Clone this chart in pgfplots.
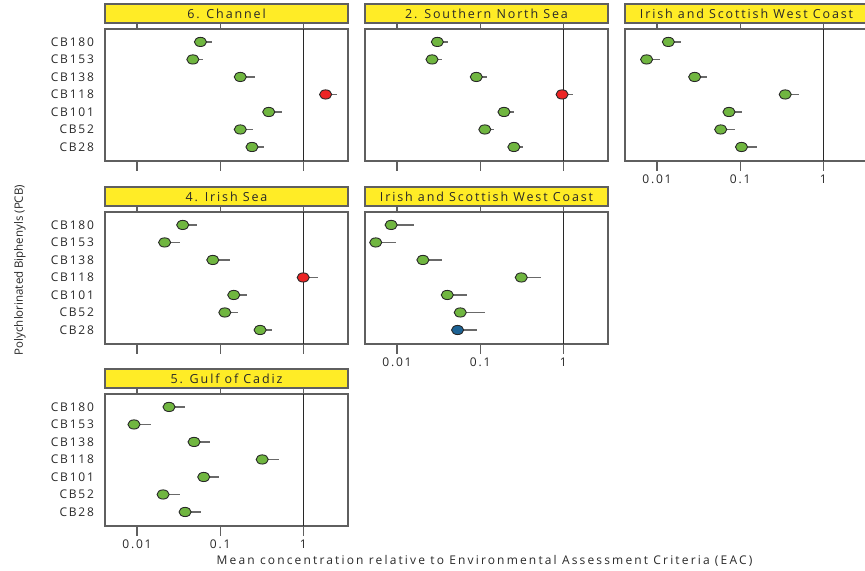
\documentclass[border=0pt]{standalone}
\usepackage{pgfplots}
\pgfplotsset{compat=1.18}
\usepackage{fontspec}
\setmainfont{Open Sans}[LetterSpace=15]
\newfontfamily\xlabfont{Open Sans}[LetterSpace=18]
\newfontfamily\ylabfont{Open Sans}
\definecolor{stripyellow}{RGB}{255,236,38}
\definecolor{framegray}{RGB}{95,95,95}
\definecolor{mgreen}{RGB}{112,182,64}
\definecolor{mred}{RGB}{236,36,36}
\definecolor{mblue}{RGB}{28,98,148}
\definecolor{mdark}{RGB}{40,40,40}
\definecolor{whiskgray}{RGB}{105,105,105}
\definecolor{txt}{RGB}{40,40,40}
\pgfplotsset{
  every axis/.append style={
    scale only axis, width=243bp, height=132bp,
    anchor=south west,
    xmin=0.00412, xmax=3.46,
    ymin=0.2, ymax=7.74,
    ytick={1,2,3,4,5,6,7},
    xtick={0.01,0.1,1},
    minor tick length=0pt,
    minor tick style={draw=none},
    tick align=outside, major tick length=10bp,
    ytick style={draw=none},
    xtick style={draw=framegray, line width=1.1bp},
    axis line style={draw=framegray, line width=1.2bp},
    tick label style={font=\fontsize{12bp}{14bp}\selectfont, text=txt},
    yticklabel style={xshift=2.5bp},
    title style={at={(0.5,1)}, anchor=south, yshift=0pt, fill=stripyellow,
      draw=framegray, line width=1.2bp, minimum width=243bp, minimum height=19bp,
      inner sep=0pt, outer sep=0pt, text=txt, font=\fontsize{12.5bp}{14bp}\selectfont},
    clip=false,
  },
}
\tikzset{
  chref/.style={draw=mdark, line width=1.2bp},
  chwhisk/.style={draw=whiskgray, line width=1.2bp},
  chpt/.style={mark=*, mark size=4.6bp, mark options={xscale=1.32, draw=mdark, line width=0.9bp, fill=#1}},
}
\begin{document}
\begin{tikzpicture}[x=1bp,y=1bp]
\useasboundingbox (0,0) rectangle (865,571);
% Panel 1: Channel
\begin{semilogxaxis}[xticklabels={,,}, yticklabels={CB28,CB52,CB101,CB118,CB138,CB153,CB180}, at={(105bp,410bp)}, title={6. Channel}]
\addplot[chref, no marks] coordinates {(1,0.2) (1,7.74)};
\addplot[chwhisk, no marks, unbounded coords=jump] coordinates {(0.058,7)(0.079,7) (nan,nan) (0.047,6)(0.062,6) (nan,nan) (0.175,5)(0.26,5) (nan,nan) (1.86,4)(2.57,4) (nan,nan) (0.385,3)(0.55,3) (nan,nan) (0.175,2)(0.247,2) (nan,nan) (0.242,1)(0.338,1)};
\addplot[only marks, chpt=mgreen] coordinates {(0.058,7) (0.047,6) (0.175,5) (0.385,3) (0.175,2) (0.242,1)};
\addplot[only marks, chpt=mred] coordinates {(1.86,4)};
\end{semilogxaxis}
% Panel 2: Southern North Sea
\begin{semilogxaxis}[xticklabels={,,}, yticklabels={,,,,,,}, at={(365bp,410bp)}, title={2. Southern North Sea}]
\addplot[chref, no marks] coordinates {(1,0.2) (1,7.74)};
\addplot[chwhisk, no marks, unbounded coords=jump] coordinates {(0.0306,7)(0.0406,7) (nan,nan) (0.0264,6)(0.0347,6) (nan,nan) (0.090,5)(0.121,5) (nan,nan) (0.97,4)(1.32,4) (nan,nan) (0.194,3)(0.255,3) (nan,nan) (0.114,2)(0.148,2) (nan,nan) (0.255,1)(0.327,1)};
\addplot[only marks, chpt=mgreen] coordinates {(0.0306,7) (0.0264,6) (0.090,5) (0.194,3) (0.114,2) (0.255,1)};
\addplot[only marks, chpt=mred] coordinates {(0.97,4)};
\end{semilogxaxis}
% Panel 3: Irish and Scottish West Coast
\begin{semilogxaxis}[xticklabels={0.01,0.1,1}, yticklabels={,,,,,,}, at={(625bp,410bp)}, title={Irish and Scottish West Coast}]
\addplot[chref, no marks] coordinates {(1,0.2) (1,7.74)};
\addplot[chwhisk, no marks, unbounded coords=jump] coordinates {(0.0137,7)(0.0193,7) (nan,nan) (0.0075,6)(0.0109,6) (nan,nan) (0.0284,5)(0.0399,5) (nan,nan) (0.349,4)(0.505,4) (nan,nan) (0.0735,3)(0.105,3) (nan,nan) (0.0584,2)(0.0867,2) (nan,nan) (0.104,1)(0.158,1)};
\addplot[only marks, chpt=mgreen] coordinates {(0.0137,7) (0.0075,6) (0.0284,5) (0.349,4) (0.0735,3) (0.0584,2) (0.104,1)};
\end{semilogxaxis}
% Panel 4: Irish Sea
\begin{semilogxaxis}[xticklabels={,,}, yticklabels={CB28,CB52,CB101,CB118,CB138,CB153,CB180}, at={(105bp,227bp)}, title={4. Irish Sea}]
\addplot[chref, no marks] coordinates {(1,0.2) (1,7.74)};
\addplot[chwhisk, no marks, unbounded coords=jump] coordinates {(0.0355,7)(0.0528,7) (nan,nan) (0.0215,6)(0.0327,6) (nan,nan) (0.0817,5)(0.133,5) (nan,nan) (1.0,4)(1.5,4) (nan,nan) (0.146,3)(0.21,3) (nan,nan) (0.114,2)(0.162,2) (nan,nan) (0.303,1)(0.419,1)};
\addplot[only marks, chpt=mgreen] coordinates {(0.0355,7) (0.0215,6) (0.0817,5) (0.146,3) (0.114,2) (0.303,1)};
\addplot[only marks, chpt=mred] coordinates {(1.0,4)};
\end{semilogxaxis}
% Panel 5: Irish and Scottish West Coast
\begin{semilogxaxis}[xticklabels={0.01,0.1,1}, yticklabels={,,,,,,}, at={(365bp,227bp)}, title={Irish and Scottish West Coast}]
\addplot[chref, no marks] coordinates {(1,0.2) (1,7.74)};
\addplot[chwhisk, no marks, unbounded coords=jump] coordinates {(0.0085,7)(0.0159,7) (nan,nan) (0.00555,6)(0.0097,6) (nan,nan) (0.0205,5)(0.0351,5) (nan,nan) (0.313,4)(0.538,4) (nan,nan) (0.0403,3)(0.0695,3) (nan,nan) (0.0577,2)(0.115,2) (nan,nan) (0.0536,1)(0.093,1)};
\addplot[only marks, chpt=mgreen] coordinates {(0.0085,7) (0.00555,6) (0.0205,5) (0.313,4) (0.0403,3) (0.0577,2)};
\addplot[only marks, chpt=mblue] coordinates {(0.0536,1)};
\end{semilogxaxis}
% Panel 6: Gulf of Cadiz
\begin{semilogxaxis}[xticklabels={0.01,0.1,1}, yticklabels={CB28,CB52,CB101,CB118,CB138,CB153,CB180}, at={(105bp,45bp)}, title={5. Gulf of Cadiz}]
\addplot[chref, no marks] coordinates {(1,0.2) (1,7.74)};
\addplot[chwhisk, no marks, unbounded coords=jump] coordinates {(0.0243,7)(0.0375,7) (nan,nan) (0.0092,6)(0.0147,6) (nan,nan) (0.0486,5)(0.0765,5) (nan,nan) (0.321,4)(0.505,4) (nan,nan) (0.0635,3)(0.098,3) (nan,nan) (0.0206,2)(0.0327,2) (nan,nan) (0.0379,1)(0.059,1)};
\addplot[only marks, chpt=mgreen] coordinates {(0.0243,7) (0.0092,6) (0.0486,5) (0.321,4) (0.0635,3) (0.0206,2) (0.0379,1)};
\end{semilogxaxis}
\node[rotate=90, text=txt, font=\ylabfont\fontsize{11.5bp}{13bp}\selectfont] at (20,301) {Polychlorinated Biphenyls (PCB)};
\node[text=txt, font=\xlabfont\fontsize{12bp}{14bp}\selectfont] at (484.5,10) {Mean concentration relative to Environmental Assessment Criteria (EAC)};
\end{tikzpicture}
\end{document}
